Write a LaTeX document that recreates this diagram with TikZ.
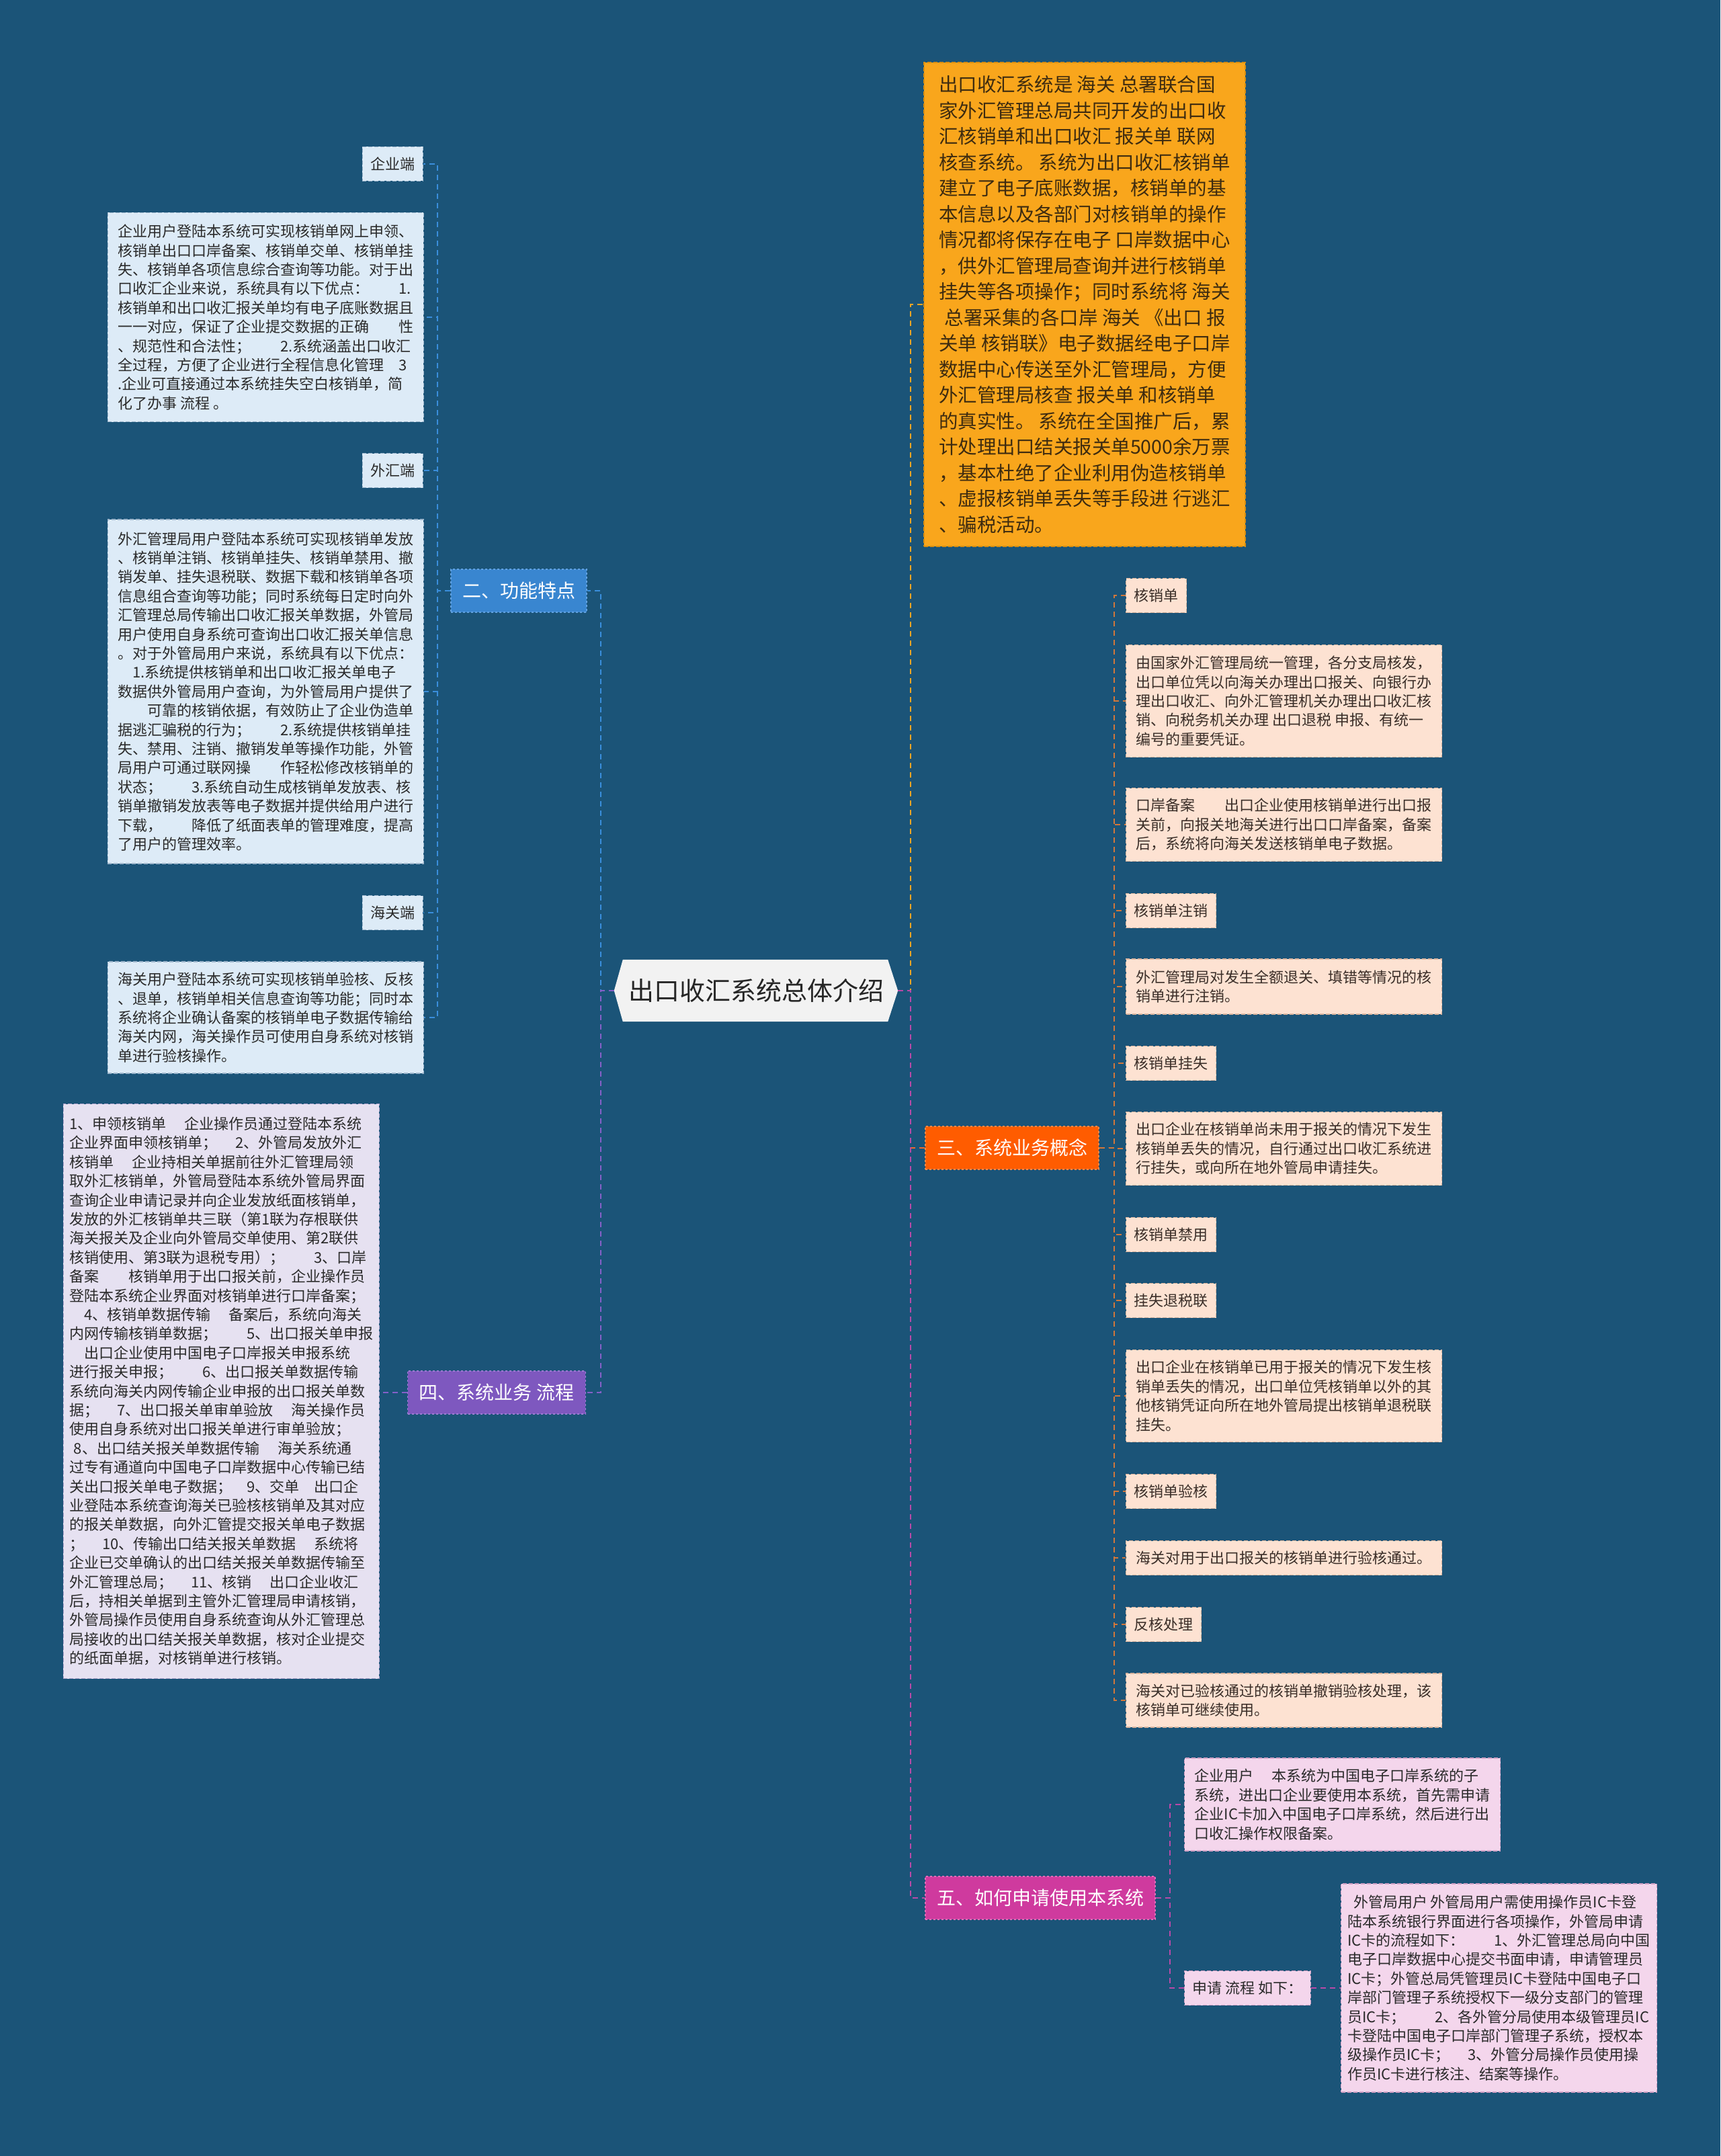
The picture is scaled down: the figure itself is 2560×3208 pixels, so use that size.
\documentclass[tikz,border=0pt]{standalone}
\usepackage{fontspec}
\setmainfont{Noto Sans CJK SC}
\usepackage{xcolor}
\usetikzlibrary{positioning,calc,backgrounds}

\definecolor{bgblue}{HTML}{1B5478}
\definecolor{ink}{HTML}{2A2A2A}
\definecolor{rootfill}{HTML}{F2F2F2}
\definecolor{rootink}{HTML}{262626}
\definecolor{twofill}{HTML}{3986D0}
\definecolor{twoedge}{HTML}{62A2E2}
\definecolor{threefill}{HTML}{FF5C00}
\definecolor{threeedge}{HTML}{FF8A48}
\definecolor{fourfill}{HTML}{7E58BF}
\definecolor{fouredge}{HTML}{9C7DD2}
\definecolor{fivefill}{HTML}{CF3A9E}
\definecolor{fiveedge}{HTML}{E46DBA}
\definecolor{bluepale}{HTML}{DDEBF7}
\definecolor{blueedge}{HTML}{9DB6CC}
\definecolor{lavpale}{HTML}{E6E1F1}
\definecolor{lavedge}{HTML}{ADA3CC}
\definecolor{peachpale}{HTML}{FDE2D2}
\definecolor{peachedge}{HTML}{D9B49E}
\definecolor{peachink}{HTML}{3A2E28}
\definecolor{pinkpale}{HTML}{F4D6EC}
\definecolor{pinkedge}{HTML}{CFA0C4}
\definecolor{ambfill}{HTML}{F9A61C}
\definecolor{ambedge}{HTML}{D98E10}
\definecolor{ambink}{HTML}{3D2B10}
\definecolor{bluelinec}{HTML}{3A8EDC}
\definecolor{purplinec}{HTML}{8560C8}
\definecolor{amblinec}{HTML}{F5A623}
\definecolor{redlinec}{HTML}{F0692A}
\definecolor{brownlinec}{HTML}{D2773A}
\definecolor{magentalinec}{HTML}{B84AA8}

\begin{document}
\begin{tikzpicture}[x=1pt,y=-1pt,
    every node/.style={font=\fontsize{22}{28.4}\selectfont,text=ink},
    rootnode/.style={minimum width=422pt,minimum height=92pt,inner sep=0pt,
                     font=\fontsize{38}{44}\selectfont,text=rootink},
    branch/.style  ={draw,dashed,line width=1.2pt,text=white,
                     minimum height=64pt,inner xsep=17pt,inner ysep=0pt,
                     font=\fontsize{28}{34}\selectfont},
    tag/.style     ={draw,line width=1.2pt,dash pattern=on 6pt off 3pt,
                     minimum height=51pt,inner xsep=12pt,inner ysep=0pt},
    block/.style   ={draw,line width=1.2pt,dash pattern=on 6pt off 3pt,
                     minimum width=470pt,inner xsep=8pt,inner ysep=4pt,
                     align=left},
    bluebox/.style ={fill=bluepale,draw=blueedge},
    lavbox/.style  ={fill=lavpale,draw=lavedge},
    peachbox/.style={fill=peachpale,draw=peachedge,text=peachink},
    pinkbox/.style ={fill=pinkpale,draw=pinkedge},
    ambbox/.style  ={fill=ambfill,draw=ambedge,text=ambink,
                     font=\fontsize{28.5}{38.5}\selectfont},
    link/.style    ={line width=2.2pt,dash pattern=on 8pt off 6pt},
  ]
  % --- background ---
  \begin{scope}[on background layer]
    \fill[bgblue] (0,0) rectangle (2560,3208);
  \end{scope}
  \useasboundingbox (0,0) rectangle (2560,3208);

  % --- root ---
  \node[rootnode] (R) at (1125,1474) {出口收汇系统总体介绍};
  \begin{scope}[on background layer]
    \fill[rootfill] ($(R.north west)+(13,0)$) -- ($(R.north east)+(-15,0)$)
      -- (R.east) -- ($(R.south east)+(-15,0)$)
      -- ($(R.south west)+(13,0)$) -- (R.west) -- cycle;
  \end{scope}
  \coordinate (tL) at (894,1474);
  \coordinate (tR) at (1355,1474);

  % --- 二 ---
  \node[branch,fill=twofill,draw=twoedge] (F2) at (772,879) {二、功能特点};
  \coordinate (t2) at (651,879);
  \node[tag,bluebox,anchor=east] (qyd) at (630,244) {企业端};
  \node[block,bluebox,anchor=east,minimum height=311pt] (qyb) at (631,472)
    {企业用户登陆本系统可实现核销单网上申领、\\
     核销单出口口岸备案、核销单交单、核销单挂\\
     失、核销单各项信息综合查询等功能。对于出\\
     口收汇企业来说，系统具有以下优点：　　1.\\
     核销单和出口收汇报关单均有电子底账数据且\\
     一一对应，保证了企业提交数据的正确　　性\\
     、规范性和合法性；　　2.系统涵盖出口收汇\\
     全过程，方便了企业进行全程信息化管理　3\\
     .企业可直接通过本系统挂失空白核销单，简\\
     化了办事 流程 。};
  \node[tag,bluebox,anchor=east] (whd) at (630,700) {外汇端};
  \node[block,bluebox,anchor=east,minimum height=512pt] (whb) at (631,1029)
    {外汇管理局用户登陆本系统可实现核销单发放\\
     、核销单注销、核销单挂失、核销单禁用、撤\\
     销发单、挂失退税联、数据下载和核销单各项\\
     信息组合查询等功能；同时系统每日定时向外\\
     汇管理总局传输出口收汇报关单数据，外管局\\
     用户使用自身系统可查询出口收汇报关单信息\\
     。对于外管局用户来说，系统具有以下优点：\\
     　1.系统提供核销单和出口收汇报关单电子\\
     数据供外管局用户查询，为外管局用户提供了\\
     　　可靠的核销依据，有效防止了企业伪造单\\
     据逃汇骗税的行为；　　2.系统提供核销单挂\\
     失、禁用、注销、撤销发单等操作功能，外管\\
     局用户可通过联网操　　作轻松修改核销单的\\
     状态；　　3.系统自动生成核销单发放表、核\\
     销单撤销发放表等电子数据并提供给用户进行\\
     下载，　　降低了纸面表单的管理难度，提高\\
     了用户的管理效率。};
  \node[tag,bluebox,anchor=east] (hgd) at (630,1358) {海关端};
  \node[block,bluebox,anchor=east,minimum height=166pt] (hgb) at (631,1514)
    {海关用户登陆本系统可实现核销单验核、反核\\
     、退单，核销单相关信息查询等功能；同时本\\
     系统将企业确认备案的核销单电子数据传输给\\
     海关内网，海关操作员可使用自身系统对核销\\
     单进行验核操作。};

  % --- 四 ---
  \node[branch,fill=fourfill,draw=fouredge] (F4) at (739,2072) {四、系统业务 流程};
  \node[block,lavbox,anchor=east,minimum height=855pt] (lcb) at (565,2070)
    {1、申领核销单　 企业操作员通过登陆本系统\\
     企业界面申领核销单；　 2、外管局发放外汇\\
     核销单　 企业持相关单据前往外汇管理局领\\
     取外汇核销单，外管局登陆本系统外管局界面\\
     查询企业申请记录并向企业发放纸面核销单，\\
     发放的外汇核销单共三联（第1联为存根联供\\
     海关报关及企业向外管局交单使用、第2联供\\
     核销使用、第3联为退税专用）；　　3、口岸\\
     备案　　核销单用于出口报关前，企业操作员\\
     登陆本系统企业界面对核销单进行口岸备案；\\
     　4、核销单数据传输　 备案后，系统向海关\\
     内网传输核销单数据；　　5、出口报关单申报\\
     　出口企业使用中国电子口岸报关申报系统\\
     进行报关申报；　　6、出口报关单数据传输\\
     系统向海关内网传输企业申报的出口报关单数\\
     据；　 7、出口报关单审单验放　 海关操作员\\
     使用自身系统对出口报关单进行审单验放；\\
     \hspace*{0.3em}8、出口结关报关单数据传输　 海关系统通\\
     过专有通道向中国电子口岸数据中心传输已结\\
     关出口报关单电子数据；　9、交单　出口企\\
     业登陆本系统查询海关已验核核销单及其对应\\
     的报关单数据，向外汇管提交报关单电子数据\\
     ；　 10、传输出口结关报关单数据　 系统将\\
     企业已交单确认的出口结关报关单数据传输至\\
     外汇管理总局；　 11、核销　 出口企业收汇\\
     后，持相关单据到主管外汇管理局申请核销，\\
     外管局操作员使用自身系统查询从外汇管理总\\
     局接收的出口结关报关单数据，核对企业提交\\
     的纸面单据，对核销单进行核销。};

  % --- overview block (top right) ---
  \node[block,ambbox,minimum width=478pt,minimum height=720pt] (gs) at (1614,453)
    {出口收汇系统是 海关 总署联合国\\
     家外汇管理总局共同开发的出口收\\
     汇核销单和出口收汇 报关单 联网\\
     核查系统。 系统为出口收汇核销单\\
     建立了电子底账数据，核销单的基\\
     本信息以及各部门对核销单的操作\\
     情况都将保存在电子 口岸数据中心\\
     ，供外汇管理局查询并进行核销单\\
     挂失等各项操作；同时系统将 海关\\
     \hspace*{0.3em}总署采集的各口岸 海关 《出口 报\\
     关单 核销联》电子数据经电子口岸\\
     数据中心传送至外汇管理局，方便\\
     外汇管理局核查 报关单 和核销单\\
     的真实性。 系统在全国推广后，累\\
     计处理出口结关报关单5000余万票\\
     ，基本杜绝了企业利用伪造核销单\\
     、虚报核销单丢失等手段进 行逃汇\\
     、骗税活动。};

  % --- 三 ---
  \node[branch,fill=threefill,draw=threeedge] (F3) at (1506,1708) {三、系统业务概念};
  \coordinate (t3) at (1658,1708);
  \node[tag,peachbox,anchor=west] (hxd) at (1675,886) {核销单};
  \node[block,peachbox,anchor=west,minimum height=167pt] (b1) at (1675,1043)
    {由国家外汇管理局统一管理，各分支局核发，\\
     出口单位凭以向海关办理出口报关、向银行办\\
     理出口收汇、向外汇管理机关办理出口收汇核\\
     销、向税务机关办理 出口退税 申报、有统一\\
     编号的重要凭证。};
  \node[block,peachbox,anchor=west,minimum height=109pt] (b2) at (1675,1227)
    {口岸备案　　出口企业使用核销单进行出口报\\
     关前，向报关地海关进行出口口岸备案，备案\\
     后，系统将向海关发送核销单电子数据。};
  \node[tag,peachbox,anchor=west] (zx) at (1675,1355) {核销单注销};
  \node[block,peachbox,anchor=west,minimum height=82pt] (b3) at (1675,1468)
    {外汇管理局对发生全额退关、填错等情况的核\\
     销单进行注销。};
  \node[tag,peachbox,anchor=west] (gsd) at (1675,1582) {核销单挂失};
  \node[block,peachbox,anchor=west,minimum height=109pt] (b4) at (1675,1709)
    {出口企业在核销单尚未用于报关的情况下发生\\
     核销单丢失的情况，自行通过出口收汇系统进\\
     行挂失，或向所在地外管局申请挂失。};
  \node[tag,peachbox,anchor=west] (jy) at (1675,1837) {核销单禁用};
  \node[tag,peachbox,anchor=west] (tsl) at (1675,1935) {挂失退税联};
  \node[block,peachbox,anchor=west,minimum height=137pt] (b5) at (1675,2077)
    {出口企业在核销单已用于报关的情况下发生核\\
     销单丢失的情况，出口单位凭核销单以外的其\\
     他核销凭证向所在地外管局提出核销单退税联\\
     挂失。};
  \node[tag,peachbox,anchor=west] (yh) at (1675,2219) {核销单验核};
  \node[block,peachbox,anchor=west,minimum height=51pt] (b6) at (1675,2318)
    {海关对用于出口报关的核销单进行验核通过。};
  \node[tag,peachbox,anchor=west] (fh) at (1675,2417) {反核处理};
  \node[block,peachbox,anchor=west,minimum height=80pt] (b7) at (1675,2530)
    {海关对已验核通过的核销单撤销验核处理，该\\
     核销单可继续使用。};

  % --- 五 ---
  \node[branch,fill=fivefill,draw=fiveedge] (F5) at (1548,2824) {五、如何申请使用本系统};
  \coordinate (t5) at (1741,2824);
  \node[block,pinkbox,anchor=west,minimum height=138pt] (qyyh) at (1762,2685)
    {企业用户　 本系统为中国电子口岸系统的子\\
     系统，进出口企业要使用本系统，首先需申请\\
     企业IC卡加入中国电子口岸系统，然后进行出\\
     口收汇操作权限备案。};
  \node[tag,pinkbox,anchor=west] (sq) at (1762,2958) {申请 流程 如下：};
  \node[block,pinkbox,anchor=west,minimum height=310pt] (wgj) at (1995,2958)
    {\hspace*{0.4em}外管局用户 外管局用户需使用操作员IC卡登\\
     陆本系统银行界面进行各项操作，外管局申请\\
     IC卡的流程如下：　　1、外汇管理总局向中国\\
     电子口岸数据中心提交书面申请，申请管理员\\
     IC卡；外管总局凭管理员IC卡登陆中国电子口\\
     岸部门管理子系统授权下一级分支部门的管理\\
     员IC卡；　　2、各外管分局使用本级管理员IC\\
     卡登陆中国电子口岸部门管理子系统，授权本\\
     级操作员IC卡；　 3、外管分局操作员使用操\\
     作员IC卡进行核注、结案等操作。};

  % --- connectors, left ---
  \draw[link,bluelinec] (R.west) -- (tL) |- (F2.east);
  \draw[link,purplinec] (R.west) -- (tL) |- (F4.east);
  \foreach \c in {qyd,qyb,whd,whb,hgd,hgb}
    \draw[link,bluelinec] (F2.west) -- (t2) |- (\c.east);
  \draw[link,purplinec] (F4.west) -- (lcb.east |- F4.west);

  % --- connectors, right ---
  \draw[link,amblinec] (R.east) -- (tR) |- (gs.west);
  \draw[link,redlinec] (R.east) -- (tR) |- (F3.west);
  \draw[link,magentalinec] (R.east) -- (tR) |- (F5.west);
  \foreach \c in {hxd,b1,b2,zx,b3,gsd,b4,jy,tsl,b5,yh,b6,fh,b7}
    \draw[link,brownlinec] (F3.east) -- (t3) |- (\c.west);
  \foreach \c in {qyyh,sq}
    \draw[link,magentalinec] (F5.east) -- (t5) |- (\c.west);
  \draw[link,magentalinec] (sq.east) -- (wgj.west |- sq.east);
\end{tikzpicture}
\end{document}
